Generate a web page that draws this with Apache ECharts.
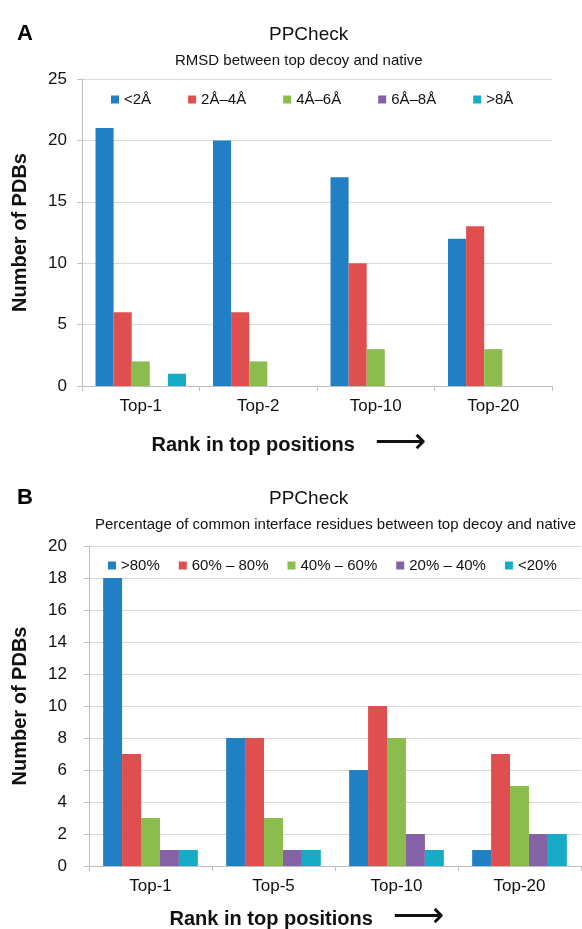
<!DOCTYPE html>
<html>
<head>
<meta charset="utf-8">
<script src="https://cdn.jsdelivr.net/npm/echarts@6/dist/echarts.min.js"></script>
<style>
  * { margin: 0; padding: 0; }
  #chart-container { width: 582px; height: 929px; background: #fff; }
</style>
</head>
<body>
<div id="chart-container"></div>
<script>
  // panel A: RMSD between top decoy and native
  var rmsdCategories = ['Top-1', 'Top-2', 'Top-10', 'Top-20']
  var rmsdNames = ['<2Å', '2Å–4Å', '4Å–6Å', '6Å–8Å', '>8Å']
  var rmsdValues = [
    [21, 20, 17, 12],
    [6, 6, 10, 13],
    [2, 2, 3, 3],
    [0, 0, 0, 0],
    [1, 0, 0, 0],
  ]
  var rmsdAxis = { min: 0, max: 25, interval: 5 }

  // panel B: percentage of common interface residues
  var overlapCategories = ['Top-1', 'Top-5', 'Top-10', 'Top-20']
  var overlapNames = ['>80%', '60% – 80%', '40% – 60%', '20% – 40%', '<20%']
  var overlapValues = [
    [18, 8, 6, 1],
    [7, 8, 10, 7],
    [3, 3, 8, 5],
    [1, 1, 2, 2],
    [1, 1, 1, 2],
  ]
  var overlapAxis = { min: 0, max: 20, interval: 2 }

  var colors = ['#2180C3', '#E04F4F', '#8CBB4E', '#8561A5', '#17ABC6']
  var font = 'Liberation Sans, Arial, sans-serif'

  var chartDom = document.getElementById('chart-container')
  var myChart = echarts.init(chartDom, null, { renderer: 'canvas' })

  function xAxisFor(cats, gridIndex, gap) {
    return {
      type: 'category',
      gridIndex: gridIndex,
      data: cats,
      axisLine: { lineStyle: { color: '#BFBFBF', width: 1 } },
      axisTick: { show: true, length: 5, lineStyle: { color: '#BFBFBF' } },
      axisLabel: { fontSize: 17, color: '#111', fontFamily: font, margin: 12 },
      name: '{t|Rank in top positions}{a|⟶}',
      nameLocation: 'middle',
      nameGap: gap,
      nameTextStyle: {
        rich: {
          t: { fontSize: 20, fontWeight: 'bold', color: '#111', fontFamily: font },
          a: { fontSize: 36, color: '#111', padding: [0, 0, 3, 20], fontFamily: 'DejaVu Sans' },
        },
        padding: [0, 56, 0, 0],
      },
    }
  }

  function yAxisFor(ax, gridIndex, gap, labelMargin) {
    return {
      type: 'value',
      gridIndex: gridIndex,
      min: ax.min,
      max: ax.max,
      interval: ax.interval,
      axisLine: { show: true, lineStyle: { color: '#BFBFBF' } },
      axisTick: { show: true, length: 5, lineStyle: { color: '#BFBFBF' } },
      splitLine: { lineStyle: { color: '#D9D9D9' } },
      axisLabel: { fontSize: 17, color: '#111', fontFamily: font, margin: labelMargin },
      name: 'Number of PDBs',
      nameLocation: 'middle',
      nameGap: gap,
      nameTextStyle: { fontSize: 20, fontWeight: 'bold', color: '#111', fontFamily: font },
    }
  }

  var series = []
  rmsdNames.forEach(function (n, i) {
    series.push({
      name: n,
      type: 'bar',
      xAxisIndex: 0,
      yAxisIndex: 0,
      data: rmsdValues[i],
      barGap: '0%',
      barCategoryGap: '23%',
      itemStyle: { color: colors[i] },
    })
  })
  overlapNames.forEach(function (n, i) {
    series.push({
      name: n,
      type: 'bar',
      xAxisIndex: 1,
      yAxisIndex: 1,
      data: overlapValues[i],
      barGap: '0%',
      barCategoryGap: '23%',
      itemStyle: { color: colors[i] },
    })
  })

  var option = {
    backgroundColor: '#fff',
    animation: false,
    title: [
      { text: 'A', left: 12, top: 18, textStyle: { fontSize: 22, fontWeight: 'bold', color: '#000', fontFamily: font } },
      { text: 'PPCheck', left: 264, top: 20, textStyle: { fontSize: 19, fontWeight: 'normal', color: '#111', fontFamily: font } },
      { text: 'RMSD between top decoy and native', left: 170, top: 48, textStyle: { fontSize: 15, fontWeight: 'normal', color: '#111', fontFamily: font } },
      { text: 'B', left: 12, top: 482, textStyle: { fontSize: 22, fontWeight: 'bold', color: '#000', fontFamily: font } },
      { text: 'PPCheck', left: 264, top: 484, textStyle: { fontSize: 19, fontWeight: 'normal', color: '#111', fontFamily: font } },
      { text: 'Percentage of common interface residues between top decoy and native', left: 90, top: 512, textStyle: { fontSize: 15, fontWeight: 'normal', color: '#111', fontFamily: font } },
    ],
    legend: [
      {
        data: rmsdNames,
        left: 106,
        top: 87,
        itemWidth: 8,
        itemHeight: 8,
        itemGap: 37,
        icon: 'rect',
        textStyle: { fontSize: 15, color: '#111', fontFamily: font },
      },
      {
        data: overlapNames,
        left: 103,
        top: 553,
        itemWidth: 8,
        itemHeight: 8,
        itemGap: 19,
        icon: 'rect',
        textStyle: { fontSize: 15, color: '#111', fontFamily: font },
      },
    ],
    grid: [
      { left: 82, right: 30, top: 79, height: 307, outerBoundsMode: 'none', containLabel: false },
      { left: 89, right: 1, top: 546, height: 320, outerBoundsMode: 'none', containLabel: false },
    ],
    xAxis: [xAxisFor(rmsdCategories, 0, 40), xAxisFor(overlapCategories, 1, 34)],
    yAxis: [yAxisFor(rmsdAxis, 0, 52, 15), yAxisFor(overlapAxis, 1, 59, 22)],
    series: series,
  }

  myChart.setOption(option)
  window.addEventListener('resize', myChart.resize)
</script>
</body>
</html>
